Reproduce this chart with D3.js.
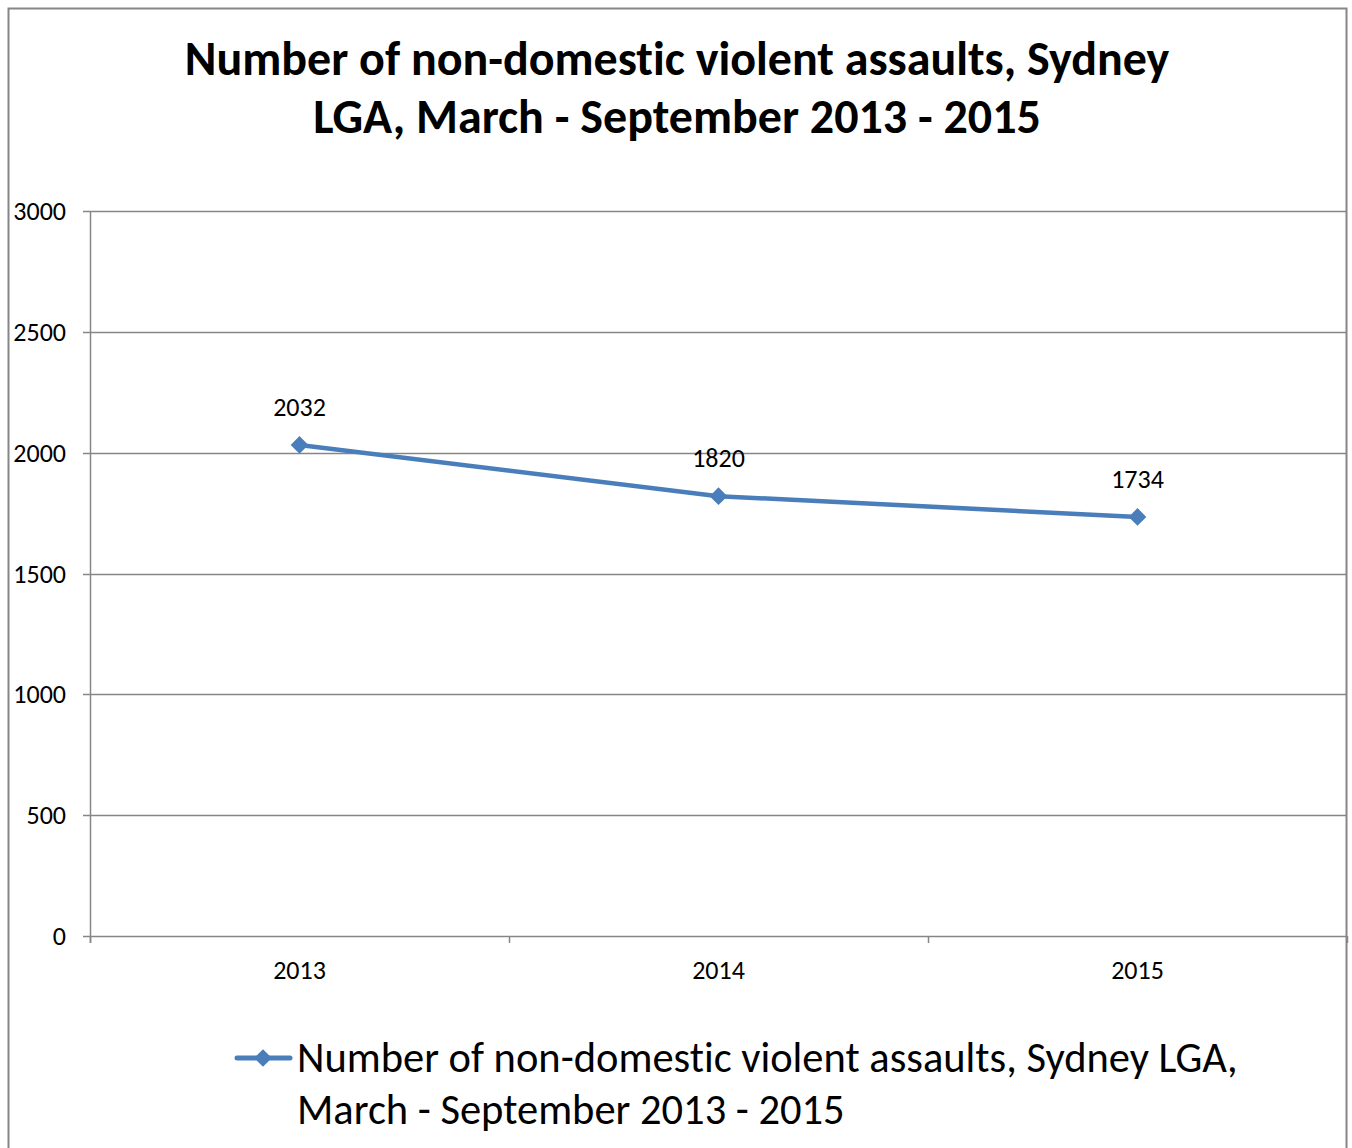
<!DOCTYPE html>
<html><head><meta charset="utf-8">
<script src="https://cdn.jsdelivr.net/npm/d3@7/dist/d3.min.js"></script>
<style>body{margin:0;background:#fff}svg{display:block}text{font-variant-ligatures:none;font-feature-settings:"liga" 0,"clig" 0}</style>
</head><body>
<script>
const categories = ["2013", "2014", "2015"];
const values = [2032, 1820, 1734];
const yTicks = [0, 500, 1000, 1500, 2000, 2500, 3000];
const titleLines = ["Number of non-domestic violent assaults, Sydney", "LGA, March - September 2013 - 2015"];
const legendLines = ["Number of non-domestic violent assaults, Sydney LGA,", "March - September 2013 - 2015"];

(function () {
const W = 1352, H = 1148;
const svg = d3.select("body").append("svg").attr("width", W).attr("height", H);
const font = "Carlito, Calibri, 'Open Sans', sans-serif";
const grey = "#868686";
const blue = "#4A7EBB";

// outer border
svg.append("rect").attr("x", 8.5).attr("y", 8.5).attr("width", 1338).attr("height", 1160)
  .attr("fill", "#fff").attr("stroke", grey).attr("stroke-width", 2);

const pLeft = 90, pRight = 1347, pTop = 211, pBottom = 936;
const x = d3.scaleBand().domain(categories).range([pLeft, pRight]);
const y = d3.scaleLinear().domain([0, 3000]).range([pBottom, pTop]);

// gridlines
svg.append("g").selectAll("line").data(yTicks).join("line")
  .attr("x1", pLeft - 7).attr("x2", pRight).attr("y1", d => Math.round(y(d)) + 0.5).attr("y2", d => Math.round(y(d)) + 0.5)
  .attr("stroke", grey).attr("stroke-width", 1.5);

// y axis line
svg.append("line").attr("x1", pLeft + 0.5).attr("x2", pLeft + 0.5).attr("y1", pTop).attr("y2", pBottom + 7)
  .attr("stroke", grey).attr("stroke-width", 1.5);

// x ticks at band edges
const edges = categories.map(c => x(c)).concat([pRight]);
svg.append("g").selectAll("line").data(edges).join("line")
  .attr("x1", d => Math.round(d) + 0.5).attr("x2", d => Math.round(d) + 0.5).attr("y1", pBottom).attr("y2", pBottom + 7)
  .attr("stroke", grey).attr("stroke-width", 1.5);

// y labels
svg.append("g").selectAll("text").data(yTicks).join("text")
  .attr("x", 66).attr("y", d => y(d) + 9).attr("text-anchor", "end")
  .attr("font-family", font).attr("font-size", 26).attr("fill", "#000").text(d => d);

// x labels
svg.append("g").selectAll("text").data(categories).join("text")
  .attr("x", d => x(d) + x.bandwidth() / 2).attr("y", 979).attr("text-anchor", "middle")
  .attr("font-family", font).attr("font-size", 26).attr("fill", "#000").text(d => d);

// title
svg.append("g").selectAll("text").data(titleLines).join("text")
  .attr("x", 677).attr("y", (d, i) => 75 + i * 58).attr("text-anchor", "middle")
  .attr("font-family", font).attr("font-weight", "bold").attr("font-size", 48)
  .attr("fill", "#000").text(d => d);

// line
const pts = categories.map((c, i) => [x(c) + x.bandwidth() / 2, y(values[i])]);
svg.append("path").attr("d", d3.line()(pts)).attr("fill", "none").attr("stroke", blue)
  .attr("stroke-width", 4.5).attr("stroke-linejoin", "round");

const diamond = d3.symbol().type(d3.symbolDiamond2).size(200);
svg.append("g").selectAll("path").data(pts).join("path")
  .attr("d", diamond).attr("transform", d => `translate(${d[0]},${d[1]})`).attr("fill", blue);

// data labels
svg.append("g").selectAll("text").data(pts).join("text")
  .attr("x", d => d[0]).attr("y", d => d[1] - 29).attr("text-anchor", "middle")
  .attr("font-family", font).attr("font-size", 26).attr("fill", "#000").text((d, i) => values[i]);

// legend
svg.append("line").attr("x1", 237).attr("x2", 290).attr("y1", 1058).attr("y2", 1058)
  .attr("stroke", blue).attr("stroke-width", 5).attr("stroke-linecap", "round");
svg.append("path").attr("d", diamond).attr("transform", "translate(263,1058)").attr("fill", blue);
svg.append("g").selectAll("text").data(legendLines).join("text")
  .attr("x", 297).attr("y", (d, i) => 1072 + i * 52)
  .attr("font-family", font).attr("font-size", 42.5).attr("fill", "#000").text(d => d);
})();
</script>
</body></html>
